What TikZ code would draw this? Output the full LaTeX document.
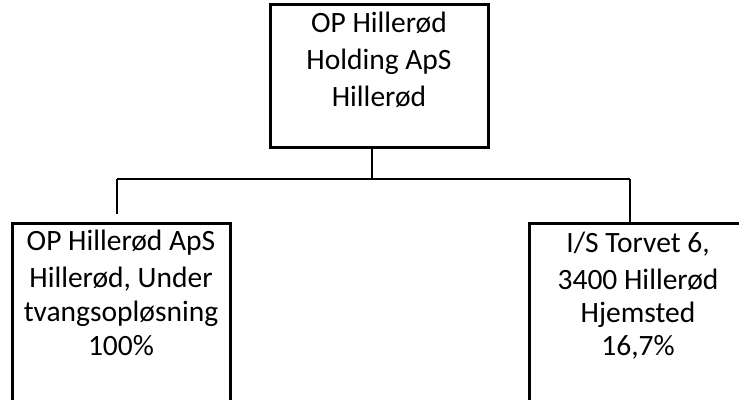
\documentclass[tikz,border=0pt]{standalone}
\usepackage{fontspec}
\setmainfont{Carlito}
\begin{document}
\begin{tikzpicture}[x=1pt,y=-1pt,
  box/.style={draw, line width=3pt, inner sep=0pt},
  conn/.style={line width=1.4pt},
  lbl/.style={font=\fontsize{29.5}{36}\selectfont, anchor=base, inner sep=0pt}]
\useasboundingbox (0,0) rectangle (739,399);
\clip (0,0) rectangle (739,399);
% boxes
\node[box, minimum width=218pt, minimum height=143pt] (top) at (379,75.5) {};
\node[box, minimum width=218pt, minimum height=258pt] (left) at (121,352) {};
\node[box, minimum width=218pt, minimum height=258pt] (right) at (638,352) {};
% texts
\node[lbl] (t1) at (379,32) {OP Hillerød};
\node[lbl] (t2) at (379,69) {Holding ApS};
\node[lbl] (t3) at (379,106) {Hillerød};
\node[lbl] (l1) at (121,250) {OP Hillerød ApS};
\node[lbl] (l2) at (121,287) {Hillerød, Under};
\node[lbl] (l3) at (121,321) {tvangsopløsning};
\node[lbl] (l4) at (121,355) {100\%};
\node[lbl] (r1) at (638,252) {I/S Torvet 6,};
\node[lbl] (r2) at (638,289) {3400 Hillerød};
\node[lbl] (r3) at (638,322) {Hjemsted};
\node[lbl] (r4) at (638,355) {16,7\%};
% connectors
\coordinate (ts) at (372,147);
\coordinate (jn) at (372,179);
\coordinate (lj) at (117,179);
\coordinate (le) at (117,214);
\coordinate (rj) at (630,179);
\coordinate (re) at (630,223);
\draw[conn] (ts) -- (jn);
\draw[conn] (lj) -- (rj);
\draw[conn] (lj) -- (le);
\draw[conn] (rj) -- (re);
\end{tikzpicture}
\end{document}
